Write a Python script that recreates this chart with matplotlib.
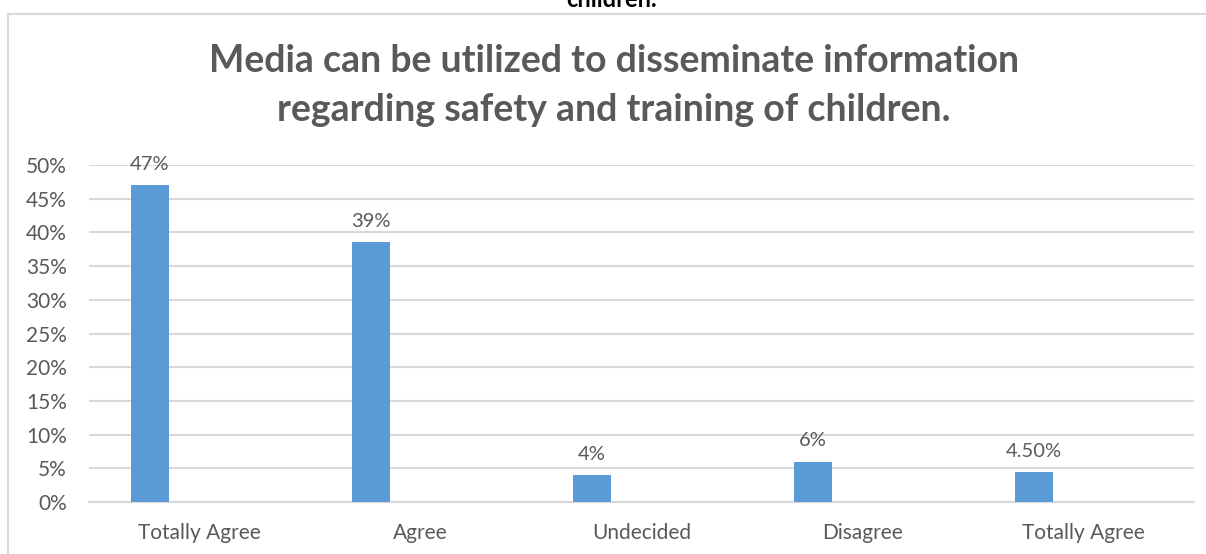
import numpy as np
import matplotlib.pyplot as plt
from matplotlib.patches import Rectangle
from matplotlib.ticker import FuncFormatter

categories = ['Totally Agree', 'Agree', 'Undecided', 'Disagree', 'Totally Agree']
values = [47, 38.6, 4, 6, 4.5]
labels = ['47%', '39%', '4%', '6%', '4.50%']
yticks = [0, 5, 10, 15, 20, 25, 30, 35, 40, 45, 50]

title = 'Media can be utilized to disseminate information\nregarding safety and training of children.'

grey = '#595959'
bar_col = '#5b9bd5'
grid_col = '#d9d9d9'

plt.rcParams['font.family'] = ['Lato', 'DejaVu Sans']

fig = plt.figure(figsize=(12.06, 5.54), dpi=100)

# chart frame (extends past right / bottom edge)
fig.patches.append(Rectangle((8 / 1206, -0.1), 1.2, (554 - 14) / 554 + 0.1,
                             transform=fig.transFigure, fill=False,
                             edgecolor=grid_col, linewidth=1.5))

# caption text cut off at the top
fig.text(0.507, 1 - 7 / 554, 'children.', ha='center', va='baseline',
         fontsize=17, fontweight='bold', color='black')

fig.text(0.509, 0.846, title, ha='center', va='center', fontsize=27,
         fontweight='bold', color=grey, linespacing=1.55)

ax = fig.add_axes([89 / 1206, 52 / 554, 1105 / 1206, 337 / 554])
x = np.arange(len(categories))
offset = -0.224
width = 0.172
ax.bar(x + offset, values, width=width, color=bar_col, zorder=3)
for xi, v, lab in zip(x, values, labels):
    ax.text(xi + offset, v + 1.8, lab, ha='center', va='bottom',
            fontsize=14.5, color=grey)

ax.set_xlim(-0.5, len(categories) - 0.5)
ax.set_ylim(0, 50)
ax.set_yticks(yticks)
ax.yaxis.set_major_formatter(FuncFormatter(lambda v, p: f'{v:.0f}%'))
ax.set_xticks(x)
ax.set_xticklabels(categories)
ax.grid(axis='y', color=grid_col, linewidth=1.5, zorder=0)
for s in ['top', 'right', 'left']:
    ax.spines[s].set_visible(False)
ax.spines['bottom'].set_color(grid_col)
ax.spines['bottom'].set_linewidth(1.5)
ax.tick_params(axis='both', length=0, labelsize=15, colors=grey)
ax.tick_params(axis='y', pad=16)
ax.tick_params(axis='x', pad=15)

fig.savefig('out.png', dpi=100)
